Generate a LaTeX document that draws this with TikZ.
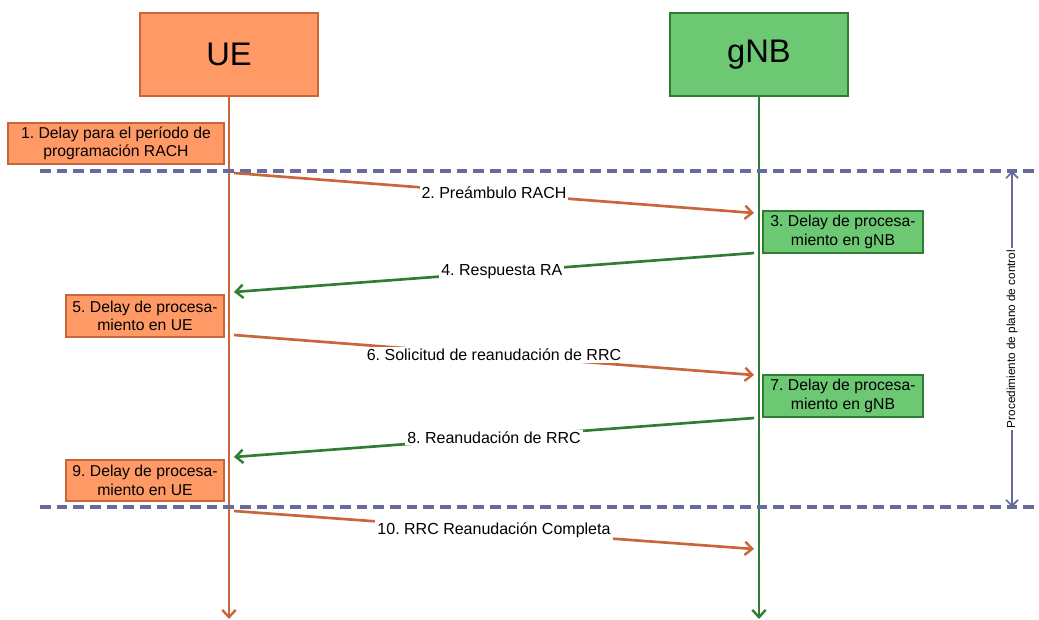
\documentclass[tikz,border=0pt]{standalone}
\usepackage{fontspec}
\setmainfont{Liberation Sans}
\usetikzlibrary{arrows.meta}
\definecolor{uefill}{HTML}{FF9A66}
\definecolor{ueline}{HTML}{C8663A}
\definecolor{gfill}{HTML}{6CC873}
\definecolor{gline}{HTML}{2F7D32}
\definecolor{dashc}{HTML}{666A9C}
\frenchspacing
\begin{document}
\begin{tikzpicture}[x=0.75pt,y=-0.75pt,
  uebox/.style={draw=ueline,fill=uefill,line width=1.6pt,inner sep=0pt,align=center,font=\fontsize{11.8}{13.8}\selectfont},
  gbox/.style={draw=gline,fill=gfill,line width=1.6pt,inner sep=0pt,align=center,font=\fontsize{11.8}{13.8}\selectfont},
  head/.style={minimum width=133.5pt,minimum height=62.25pt,font=\fontsize{24.5}{28}\selectfont},
  tipa/.style={-{Straight Barb[length=5.5pt,width=10pt,line width=1.8pt]}},
  msg/.style={tipa,line width=2pt},
  lbl/.style={fill=white,inner sep=1.5pt,font=\fontsize{12}{14}\selectfont,text=black},
  sep/.style={draw=dashc,line width=2.6pt,dash pattern=on 8pt off 4.5pt}]
\useasboundingbox (0,0) rectangle (1039,619);
% headers
\node[uebox,head] (ue) at (229,54.5) {UE};
\node[gbox,head] (gnb) at (759,54.5) {gNB};
\coordinate (ueend) at (229,619);
\coordinate (gend) at (759,619);
\draw[ueline,line width=2pt,tipa] (ue.south) -- (ueend);
\draw[gline,line width=2pt,tipa] (gnb.south) -- (gend);
% separators
\coordinate (s1a) at (40,171); \coordinate (s1b) at (1039,171);
\coordinate (s2a) at (40,507); \coordinate (s2b) at (1039,507);
\draw[sep] (s1a) -- (s1b);
\draw[sep] (s2a) -- (s2b);
% boxes
\node[uebox,minimum width=162pt,minimum height=30.75pt] (b1) at (116,143.5) {1. Delay para el período de\\programación RACH};
\node[gbox,minimum width=120pt,minimum height=31.5pt] (b3) at (843,232) {3. Delay de procesa-\\miento en gNB};
\node[uebox,minimum width=118.5pt,minimum height=31.5pt] (b5) at (145,316) {5. Delay de procesa-\\miento en UE};
\node[gbox,minimum width=120pt,minimum height=31.5pt] (b7) at (843,396) {7. Delay de procesa-\\miento en gNB};
\node[uebox,minimum width=118.5pt,minimum height=30.75pt] (b9) at (145,480.5) {9. Delay de procesa-\\miento en UE};
% message endpoints
\coordinate (m2a) at (234,173); \coordinate (m2b) at (754,213);
\coordinate (m4a) at (754,253); \coordinate (m4b) at (234,292);
\coordinate (m6a) at (234,335); \coordinate (m6b) at (754,375);
\coordinate (m8a) at (754,418); \coordinate (m8b) at (234,457);
\coordinate (m10a) at (234,511); \coordinate (m10b) at (754,549);
\draw[msg,ueline] (m2a) -- node[lbl,pos=0.5] (l2) {2. Preámbulo RACH} (m2b);
\draw[msg,gline] (m4a) -- node[lbl,pos=0.485] (l4) {4. Respuesta RA} (m4b);
\draw[msg,ueline] (m6a) -- node[lbl,pos=0.5] (l6) {6. Solicitud de reanudación de RRC} (m6b);
\draw[msg,gline] (m8a) -- node[lbl,pos=0.5] (l8) {8. Reanudación de RRC} (m8b);
\draw[msg,ueline] (m10a) -- node[lbl,pos=0.5] (l10) {10. RRC Reanudación Completa} (m10b);
% bracket
\coordinate (br1) at (1012,171); \coordinate (br2) at (1012,507);
\draw[dashc,line width=1.3pt,{Straight Barb[length=4.5pt,width=9pt,line width=1.3pt]}-{Straight Barb[length=4.5pt,width=9pt,line width=1.3pt]}] (br1) -- node[fill=white,inner sep=1.5pt,rotate=90,font=\fontsize{8.8}{10}\selectfont,text=black] (bl) {Procedimiento de plano de control} (br2);
\end{tikzpicture}
\end{document}
